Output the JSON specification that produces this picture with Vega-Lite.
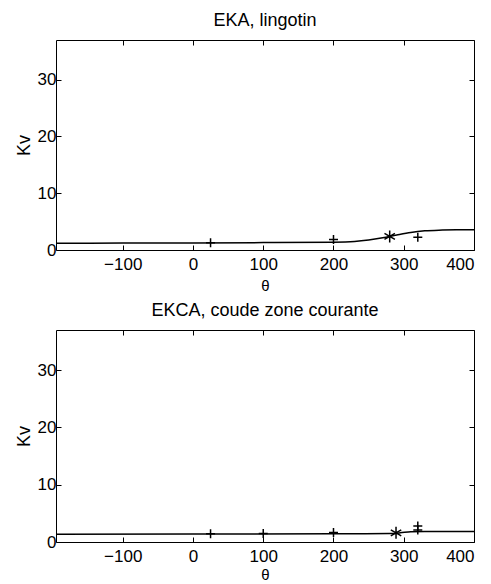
{
  "$schema": "https://vega.github.io/schema/vega-lite/v6.json",
  "background": "white",
  "padding": {"left": 14, "top": 11, "right": 10, "bottom": 2},
  "config": {
    "font": "Liberation Sans",
    "view": {"stroke": "black", "strokeWidth": 1},
    "axis": {"domain": false, "grid": false, "tickColor": "black", "tickSize": -5, "tickWidth": 1, "labelColor": "black", "labelFontSize": 17, "labelPadding": 5, "titleColor": "black", "titleFontWeight": "normal", "titleFontSize": 18},
    "axisX": {"labelPadding": 11},
    "title": {"fontSize": 18, "fontWeight": "normal", "color": "black", "offset": 10}
  },
  "datasets": {
    "top_line": [{"theta":-195,"Kv":1.2},{"theta":-100,"Kv":1.22},{"theta":0,"Kv":1.25},{"theta":100,"Kv":1.3},{"theta":200,"Kv":1.38},{"theta":230,"Kv":1.5},{"theta":250,"Kv":1.75},{"theta":270,"Kv":2.15},{"theta":290,"Kv":2.65},{"theta":310,"Kv":3.1},{"theta":330,"Kv":3.38},{"theta":350,"Kv":3.5},{"theta":375,"Kv":3.55},{"theta":400,"Kv":3.56}],
    "top_plus": [{"theta":25,"Kv":1.27},{"theta":200,"Kv":1.85},{"theta":320,"Kv":2.24}],
    "top_star": [{"theta":280,"Kv":2.4}],
    "bottom_line": [{"theta":-195,"Kv":1.35},{"theta":0,"Kv":1.38},{"theta":200,"Kv":1.42},{"theta":280,"Kv":1.48},{"theta":295,"Kv":1.6},{"theta":310,"Kv":1.8},{"theta":330,"Kv":1.85},{"theta":400,"Kv":1.82}],
    "bottom_plus": [{"theta":25,"Kv":1.45},{"theta":100,"Kv":1.5},{"theta":200,"Kv":1.65},{"theta":320,"Kv":2.1},{"theta":320,"Kv":2.8}],
    "bottom_star": [{"theta":289,"Kv":1.6}]
  },
  "spacing": 7,
  "vconcat": [
    {
      "title": "EKA, lingotin",
      "width": 418,
      "height": 210,
      "resolve": {"axis": {"x": "independent", "y": "independent"}},
      "layer": [
        {
          "data": {"name": "top_line"},
          "mark": {"type": "line", "color": "black", "strokeWidth": 1.5, "interpolate": "monotone"},
          "encoding": {
            "x": {"field": "theta", "type": "quantitative", "scale": {"domain": [-195, 400], "nice": false, "zero": false}, "axis": {"values": [-100, 0, 100, 200, 300, 400], "title": "θ", "titleFontSize": 15, "titlePadding": 6}},
            "y": {"field": "Kv", "type": "quantitative", "scale": {"domain": [0, 37], "nice": false}, "axis": {"values": [0, 10, 20, 30], "title": "Kv", "titlePadding": 4}}
          }
        },
        {
          "data": {"name": "top_line"},
          "mark": {"type": "line", "opacity": 0},
          "encoding": {
            "x": {"field": "theta", "type": "quantitative", "axis": {"orient": "top", "values": [-100, 0, 100, 200, 300, 400], "labels": false, "title": null}},
            "y": {"field": "Kv", "type": "quantitative", "axis": {"orient": "right", "values": [0, 10, 20, 30], "labels": false, "title": null}}
          }
        },
        {
          "data": {"name": "top_plus"},
          "mark": {"type": "point", "shape": "M-1,0H1M0,-1V1", "size": 81, "stroke": "black", "strokeWidth": 1.5, "filled": false, "opacity": 1},
          "encoding": {
            "x": {"field": "theta", "type": "quantitative", "axis": null},
            "y": {"field": "Kv", "type": "quantitative", "axis": null}
          }
        },
        {
          "data": {"name": "top_star"},
          "mark": {"type": "point", "shape": "M0,-1V1M-0.87,-0.5L0.87,0.5M-0.87,0.5L0.87,-0.5", "size": 144, "stroke": "black", "strokeWidth": 1.5, "filled": false, "opacity": 1},
          "encoding": {
            "x": {"field": "theta", "type": "quantitative", "axis": null},
            "y": {"field": "Kv", "type": "quantitative", "axis": null}
          }
        }
      ]
    },
    {
      "title": "EKCA, coude zone courante",
      "width": 418,
      "height": 212,
      "resolve": {"axis": {"x": "independent", "y": "independent"}},
      "layer": [
        {
          "data": {"name": "bottom_line"},
          "mark": {"type": "line", "color": "black", "strokeWidth": 1.5, "interpolate": "monotone"},
          "encoding": {
            "x": {"field": "theta", "type": "quantitative", "scale": {"domain": [-195, 400], "nice": false, "zero": false}, "axis": {"values": [-100, 0, 100, 200, 300, 400], "title": "θ", "titleFontSize": 15, "titlePadding": 3}},
            "y": {"field": "Kv", "type": "quantitative", "scale": {"domain": [0, 37], "nice": false}, "axis": {"values": [0, 10, 20, 30], "title": "Kv", "titlePadding": 4}}
          }
        },
        {
          "data": {"name": "bottom_line"},
          "mark": {"type": "line", "opacity": 0},
          "encoding": {
            "x": {"field": "theta", "type": "quantitative", "axis": {"orient": "top", "values": [-100, 0, 100, 200, 300, 400], "labels": false, "title": null}},
            "y": {"field": "Kv", "type": "quantitative", "axis": {"orient": "right", "values": [0, 10, 20, 30], "labels": false, "title": null}}
          }
        },
        {
          "data": {"name": "bottom_plus"},
          "mark": {"type": "point", "shape": "M-1,0H1M0,-1V1", "size": 81, "stroke": "black", "strokeWidth": 1.5, "filled": false, "opacity": 1},
          "encoding": {
            "x": {"field": "theta", "type": "quantitative", "axis": null},
            "y": {"field": "Kv", "type": "quantitative", "axis": null}
          }
        },
        {
          "data": {"name": "bottom_star"},
          "mark": {"type": "point", "shape": "M0,-1V1M-0.87,-0.5L0.87,0.5M-0.87,0.5L0.87,-0.5", "size": 144, "stroke": "black", "strokeWidth": 1.5, "filled": false, "opacity": 1},
          "encoding": {
            "x": {"field": "theta", "type": "quantitative", "axis": null},
            "y": {"field": "Kv", "type": "quantitative", "axis": null}
          }
        }
      ]
    }
  ]
}
